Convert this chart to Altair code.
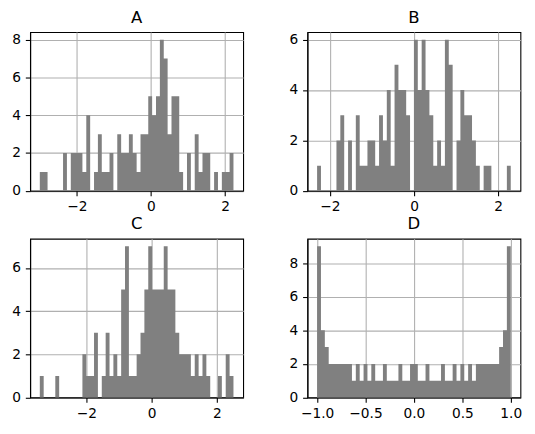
import altair as alt
import pandas as pd

# Histogram counts (50 bins each)
counts_A = [1, 1, 0, 0, 0, 0, 2, 0, 2, 2, 2, 1, 4, 0, 1, 3, 1, 1, 2, 0,
            3, 2, 2, 3, 2, 1, 3, 3, 5, 4, 5, 8, 7, 3, 5, 5, 1, 0, 2, 0,
            3, 1, 2, 2, 0, 1, 0, 1, 1, 2]
counts_B = [1, 0, 0, 0, 0, 2, 3, 0, 2, 0, 3, 1, 1, 2, 2, 1, 3, 2, 4, 1,
            5, 4, 4, 3, 0, 6, 4, 6, 4, 3, 1, 2, 1, 6, 5, 0, 2, 4, 3, 3,
            2, 1, 0, 1, 1, 0, 0, 0, 0, 1]
counts_C = [1, 0, 0, 0, 1, 0, 0, 0, 0, 0, 0, 2, 1, 1, 3, 0, 1, 3, 1, 2,
            1, 5, 7, 1, 1, 2, 3, 5, 7, 5, 5, 5, 7, 5, 5, 3, 2, 2, 2, 1,
            2, 1, 2, 1, 0, 0, 1, 0, 2, 1]
counts_D = [9, 4, 3, 2, 2, 2, 2, 2, 2, 1, 2, 1, 2, 1, 2, 1, 1, 2, 1, 1,
            1, 2, 1, 1, 2, 2, 1, 1, 2, 1, 1, 1, 2, 1, 1, 2, 1, 2, 1, 2,
            1, 2, 2, 2, 2, 2, 2, 3, 4, 9]

# Data ranges (min, max) of each column
range_A = [-3.002, 2.227]
range_B = [-2.306, 2.299]
range_C = [-3.431, 2.511]
range_D = [-1.0, 1.0]

names = ["A", "B", "C", "D"]
xticks_A = [-2, 0, 2]
xticks_B = [-2, 0, 2]
xticks_C = [-2, 0, 2]
xticks_D = [-1.0, -0.5, 0.0, 0.5, 1.0]
yticks_A = [0, 2, 4, 6, 8]
yticks_B = [0, 2, 4, 6]
yticks_C = [0, 2, 4, 6]
yticks_D = [0, 2, 4, 6, 8]

W = 215.65
H = 160.7


def panel(name, counts, rng, xticks, yticks, xfmt):
    n = len(counts)
    lo, hi = rng
    bw = (hi - lo) / n
    # bin edges with the count of the bin that starts there (step-after)
    df = pd.DataFrame({
        "edge": [lo + i * bw for i in range(n + 1)],
        "count": list(counts) + [counts[-1]],
    })
    pad = 0.05 * (hi - lo)
    ymax = max(counts) * 1.05
    return (
        alt.Chart(df, title=alt.Title(name))
        .mark_area(color="#808080", interpolate="step-after")
        .encode(
            x=alt.X("edge:Q",
                    scale=alt.Scale(domain=[lo - pad, hi + pad], nice=False, zero=False),
                    axis=alt.Axis(values=xticks, format=xfmt, title=None)),
            y=alt.Y("count:Q", stack=None,
                    scale=alt.Scale(domain=[0, ymax], nice=False, zero=True),
                    axis=alt.Axis(values=yticks, format="d", title=None)),
        )
        .properties(width=W, height=H)
    )


pA = panel("A", counts_A, range_A, xticks_A, yticks_A, "d")
pB = panel("B", counts_B, range_B, xticks_B, yticks_B, "d")
pC = panel("C", counts_C, range_C, xticks_C, yticks_C, "d")
pD = panel("D", counts_D, range_D, xticks_D, yticks_D, ".1f")

chart = (
    alt.concat(pA, pB, pC, pD, columns=2,
               spacing={"row": 48.2, "column": 64.7}, bounds="flush")
    .properties(padding={"left": 2.4, "top": -2.2, "right": 4, "bottom": 4})
    .configure_view(stroke="black", strokeWidth=1.1)
    .configure_axis(grid=True, gridColor="#b0b0b0", gridWidth=1.1,
                    domain=True, domainColor="black", domainWidth=1.1,
                    ticks=True, tickColor="black", tickWidth=1.1, tickSize=4.86,
                    labelFont="DejaVu Sans", labelFontSize=13.9, labelColor="black",
                    labelPadding=4.86, labelFlush=False, zindex=1)
    .configure_axisX(labelPadding=4.5)
    .configure_title(font="DejaVu Sans", fontSize=16.7, fontWeight="normal",
                     color="black", anchor="middle", frame="group",
                     baseline="alphabetic", offset=5.8)
)

chart.save("out.html", embed_options={"renderer": "svg", "actions": False})
